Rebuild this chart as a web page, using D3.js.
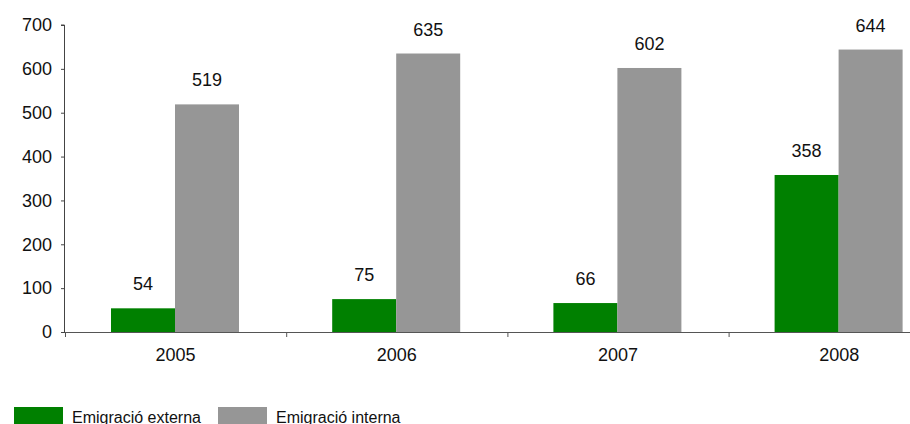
<!DOCTYPE html>
<html><head><meta charset="utf-8">
<script src="https://cdn.jsdelivr.net/npm/d3@7"></script>
<style>body{margin:0;background:#fff}svg{display:block}text{font-family:"Liberation Sans",Arial,sans-serif;fill:#111}</style>
</head><body><svg id="c" width="910" height="424"></svg>
<script>
const categories = ["2005","2006","2007","2008"];
const seriesNames = ["Emigració externa","Emigració interna"];
const externa = [54,75,66,358];
const interna = [519,635,602,644];
const yTicks = [0,100,200,300,400,500,600,700];
const colors = ["#008000","#969696"];

const svg = d3.select("#c");
const x0 = 65, y0 = 332, yTop = 25, step = 221.2;
const x = d3.scaleBand().domain(categories).range([x0, x0 + step*categories.length]).paddingInner(0).paddingOuter(0);
const xs = d3.scaleBand().domain([0,1]).range([46, 46+128]);
const y = d3.scaleLinear().domain([0,700]).range([y0, yTop]);
const series = [externa, interna];

// bars
series.forEach((vals, si) => {
  svg.selectAll(null).data(vals).enter().append("rect")
    .attr("x", (d,i) => x(categories[i]) + xs(si))
    .attr("width", xs.bandwidth())
    .attr("y", d => y(d))
    .attr("height", d => y0 - y(d))
    .attr("fill", colors[si]);
  svg.selectAll(null).data(vals).enter().append("text")
    .attr("x", (d,i) => x(categories[i]) + xs(si) + xs.bandwidth()/2)
    .attr("y", d => y(d) - 18)
    .attr("text-anchor","middle").attr("font-size","18px")
    .text(d => d);
});

// y axis
const ya = svg.append("g").attr("transform",`translate(${x0},0)`)
  .call(d3.axisLeft(y).tickValues(yTicks).tickSize(4).tickPadding(9));
ya.select(".domain").attr("stroke","#444").attr("d",`M-0.5,${y0}V${yTop}H-4`);
ya.selectAll(".tick line").attr("stroke","#444");
ya.selectAll(".tick text").attr("font-size","18px").attr("fill","#111").attr("font-family",'"Liberation Sans",Arial,sans-serif');

// x axis
const xa = svg.append("g").attr("transform",`translate(0,${y0})`)
  .call(d3.axisBottom(x).tickSize(0).tickPadding(16));
xa.select(".domain").attr("stroke","#555");
xa.selectAll(".tick text").attr("font-size","18px").attr("fill","#111").attr("font-family",'"Liberation Sans",Arial,sans-serif');
categories.forEach((c,i) => {
  svg.append("line").attr("x1", x(c)+0.5).attr("x2", x(c)+0.5).attr("y1", y0).attr("y2", y0+5).attr("stroke","#555");
});

// legend
const leg = [{x:14},{x:218}];
seriesNames.forEach((n,i) => {
  svg.append("rect").attr("x", leg[i].x).attr("y", 407).attr("width", 49).attr("height", 20).attr("fill", colors[i]);
  svg.append("text").attr("x", leg[i].x + 58).attr("y", 422.5).attr("font-size","16px").text(n);
});
</script></body></html>
